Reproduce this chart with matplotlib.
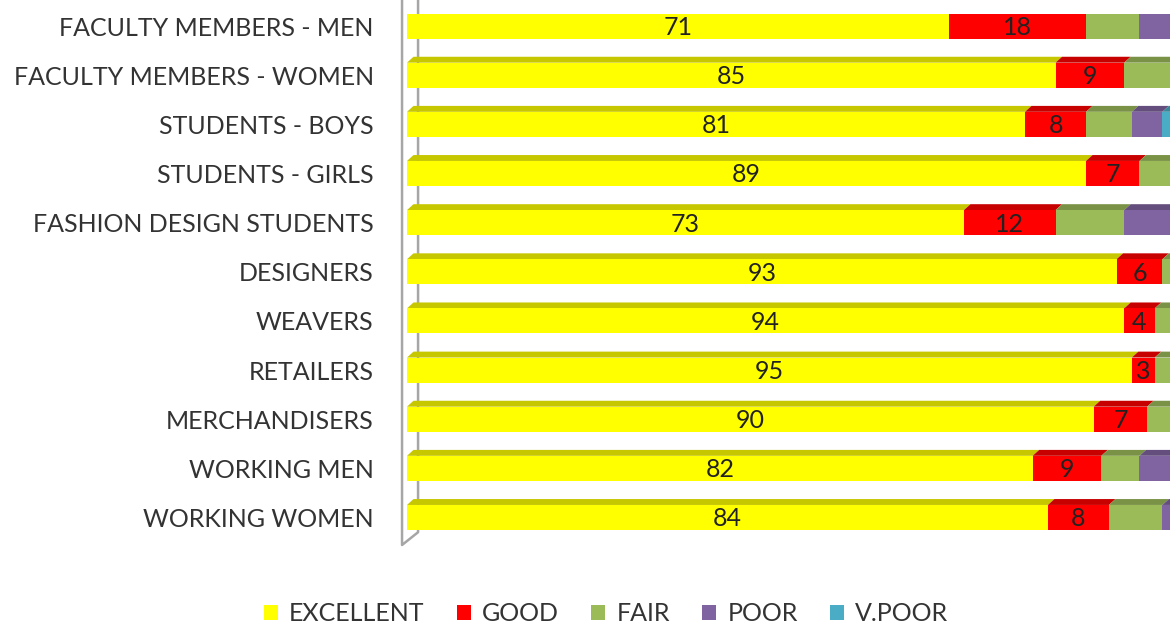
import matplotlib
matplotlib.use("Agg")
import matplotlib.pyplot as plt
from matplotlib.patches import Polygon, Patch
from matplotlib.colors import to_rgb

plt.rcParams["font.family"] = ["Lato", "DejaVu Sans"]

categories = ["FACULTY MEMBERS - MEN", "FACULTY MEMBERS - WOMEN", "STUDENTS - BOYS",
              "STUDENTS - GIRLS", "FASHION DESIGN STUDENTS", "DESIGNERS", "WEAVERS",
              "RETAILERS", "MERCHANDISERS", "WORKING MEN", "WORKING WOMEN"]
excellent = [71, 85, 81, 89, 73, 93, 94, 95, 90, 82, 84]
good = [18, 9, 8, 7, 12, 6, 4, 3, 7, 9, 8]
fair = [7, 6, 6, 4, 9, 1, 2, 2, 3, 5, 7]
poor = [4, 0, 4, 0, 6, 0, 0, 0, 0, 4, 1]
vpoor = [0, 0, 1, 0, 0, 0, 0, 0, 0, 0, 0]

series = [("EXCELLENT", excellent, "#FFFF00"), ("GOOD", good, "#FF0000"),
          ("FAIR", fair, "#9BBB59"), ("POOR", poor, "#8064A2"),
          ("V.POOR", vpoor, "#4BACC6")]
labelled = {"EXCELLENT", "GOOD"}

fig = plt.figure(figsize=(11.7, 6.25), dpi=100)
ax = fig.add_axes([407 / 1170, 80 / 625, 763 / 1170, 545 / 625])

bar_h = 0.51
dx, dy = 0.85, 0.12   # 3D depth of the bar tops
ypos = list(range(len(categories)))
left = [0] * len(categories)
for name, vals, color in series:
    ax.barh(ypos, vals, left=left, height=bar_h, color=color, linewidth=0, zorder=3)
    dark = tuple(c * 0.78 for c in to_rgb(color))
    for i, (l, v) in enumerate(zip(left, vals)):
        if v == 0:
            continue
        top = i - bar_h / 2
        if i > 0:  # first row's top face is cropped in the source
            ax.add_patch(Polygon([(l, top), (l + dx, top - dy), (l + v + dx, top - dy), (l + v, top)],
                                 closed=True, color=dark, linewidth=0, zorder=2))
        if name in labelled:
            ax.text(l + v / 2, i + 0.03, str(v), ha="center", va="center",
                    fontsize=18, color="#222222", zorder=4)
    left = [a + b for a, b in zip(left, vals)]

ax.set_xlim(0, 100)
ax.set_ylim(10.56, -0.53)
ax.set_yticks(ypos)
ax.set_yticklabels(categories, fontsize=18, color="#333333")
ax.tick_params(axis="y", length=0, pad=24)
ax.set_xticks([])
for s in ax.spines.values():
    s.set_visible(False)

# 3D wall lines of the value axis
ax.plot([-0.65, -0.65, 1.45, 1.45], [-0.53, 10.56, 10.3, -0.53], color="#A6A6A6",
        linewidth=1.8, clip_on=False, zorder=1)

handles = [Patch(facecolor=c, label=n) for n, _, c in series]
fig.legend(handles=handles, loc="center", bbox_to_anchor=(0.518, 0.018), ncol=5,
           frameon=False, fontsize=18, handlelength=0.55, handleheight=0.55,
           handletextpad=0.45, columnspacing=1.3, labelcolor="#333333")

fig.savefig("out.png", dpi=100)
